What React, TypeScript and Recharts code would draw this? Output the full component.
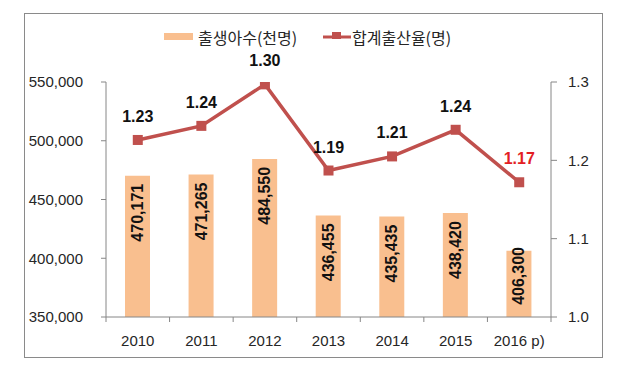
import React from 'react';
import { ComposedChart, Bar, Line, XAxis, YAxis, LabelList } from 'recharts';

const years = ['2010', '2011', '2012', '2013', '2014', '2015', '2016 p)'];
const births = [470171, 471265, 484550, 436455, 435435, 438420, 406300];
const fertility = [1.226, 1.244, 1.297, 1.187, 1.205, 1.239, 1.172];
const leftTicks = [350000, 400000, 450000, 500000, 550000];
const rightTicks = [1.0, 1.1, 1.2, 1.3];
const seriesNames = ['출생아수(천명)', '합계출산율(명)'];

const data = years.map((year, i) => ({ year, births: births[i], tfr: fertility[i] }));

const BAR = '#F9BF8F';
const LINE = '#C0504D';
const AXIS = '#868686';
const TEXT = '#262626';
const NUM_FONT = '"Liberation Sans", Arial, sans-serif';
const KR_FONT = '"Noto Sans CJK KR", "Noto Sans", sans-serif';

function XTick(props: any) {
  const { x, y, payload, index, visibleTicksCount, width } = props;
  const w = typeof width === 'number' ? width : 445;
  const half = w / visibleTicksCount / 2;
  return (
    <g>
      <line x1={x - half} x2={x - half} y1={y} y2={y + 5} stroke={AXIS} />
      {index === visibleTicksCount - 1 && (
        <line x1={x + half} x2={x + half} y1={y} y2={y + 5} stroke={AXIS} />
      )}
      <text x={x} y={y + 29} textAnchor="middle" fontSize={15} fontFamily={NUM_FONT} fill={TEXT}>
        {payload.value}
      </text>
    </g>
  );
}

function BarValue(props: any) {
  const { x, y, width, height, value } = props;
  const cx = x + width / 2;
  const top = Math.min(y + 8, y + height - 70);
  return (
    <text
      x={cx}
      y={top}
      transform={`rotate(-90 ${cx} ${top})`}
      textAnchor="end"
      dominantBaseline="central"
      fontSize={16}
      fontWeight="bold"
      fontFamily={NUM_FONT}
      fill="#111"
    >
      {Number(value).toLocaleString('en-US')}
    </text>
  );
}

function RateValue(props: any) {
  const { x, y, value, index } = props;
  const last = index === fertility.length - 1;
  return (
    <text
      x={x}
      y={y - 18}
      textAnchor="middle"
      fontSize={16}
      fontWeight="bold"
      fontFamily={NUM_FONT}
      fill={last ? '#E31E24' : '#111'}
    >
      {Number(value).toFixed(2)}
    </text>
  );
}

function SquareDot(props: any) {
  const { cx, cy, index } = props;
  return <rect key={`d${index}`} x={cx - 5} y={cy - 5} width={10} height={10} fill={LINE} />;
}

export default function App() {
  return (
    <div style={{ position: 'absolute', left: 0, top: 0, width: 624, height: 385, background: '#fff' }}>
      <div
        style={{
          position: 'absolute',
          left: 24,
          top: 13,
          width: 579,
          height: 345,
          border: '1px solid #8a8a8a',
          boxSizing: 'border-box',
        }}
      />
      <div style={{ position: 'absolute', left: 164, top: 33, width: 29, height: 7, background: BAR }} />
      <div
        style={{
          position: 'absolute',
          left: 198,
          top: 26,
          fontSize: 16,
          lineHeight: '22px',
          fontFamily: KR_FONT,
          color: TEXT,
          whiteSpace: 'nowrap',
        }}
      >
        {seriesNames[0]}
      </div>
      <svg style={{ position: 'absolute', left: 322, top: 29 }} width={30} height={14}>
        <line x1={1} x2={29} y1={8} y2={8} stroke={LINE} strokeWidth={3} />
        <rect x={10} y={3} width={9} height={7} fill={LINE} />
      </svg>
      <div
        style={{
          position: 'absolute',
          left: 352,
          top: 26,
          fontSize: 16,
          lineHeight: '22px',
          fontFamily: KR_FONT,
          color: TEXT,
          whiteSpace: 'nowrap',
        }}
      >
        {seriesNames[1]}
      </div>
      <div style={{ position: 'absolute', left: 0, top: 0 }}>
        <ComposedChart width={624} height={385} data={data} margin={{ top: 82, right: 0, bottom: 0, left: 0 }}>
          <XAxis
            dataKey="year"
            height={68}
            interval={0}
            tickLine={false}
            tickSize={0}
            tickMargin={0}
            axisLine={{ stroke: AXIS }}
            tick={<XTick />}
          />
          <YAxis
            yAxisId="left"
            orientation="left"
            width={106}
            domain={[350000, 550000]}
            ticks={leftTicks}
            allowDataOverflow
            tickFormatter={(v: number) => v.toLocaleString('en-US')}
            stroke={AXIS}
            tickSize={5}
            tickMargin={18}
            tick={{ fontSize: 15, fill: TEXT, fontFamily: NUM_FONT }}
          />
          <YAxis
            yAxisId="right"
            orientation="right"
            width={73}
            domain={[1.0, 1.3]}
            ticks={rightTicks}
            allowDataOverflow
            tickFormatter={(v: number) => v.toFixed(1)}
            stroke={AXIS}
            tickSize={6}
            tickMargin={11}
            tick={{ fontSize: 15, fill: TEXT, fontFamily: NUM_FONT }}
          />
          <Bar yAxisId="left" dataKey="births" fill={BAR} barSize={25} isAnimationActive={false}>
            <LabelList dataKey="births" content={<BarValue />} />
          </Bar>
          <Line
            yAxisId="right"
            dataKey="tfr"
            stroke={LINE}
            strokeWidth={3.5}
            dot={<SquareDot />}
            activeDot={false}
            isAnimationActive={false}
          >
            <LabelList dataKey="tfr" content={<RateValue />} />
          </Line>
        </ComposedChart>
      </div>
    </div>
  );
}
